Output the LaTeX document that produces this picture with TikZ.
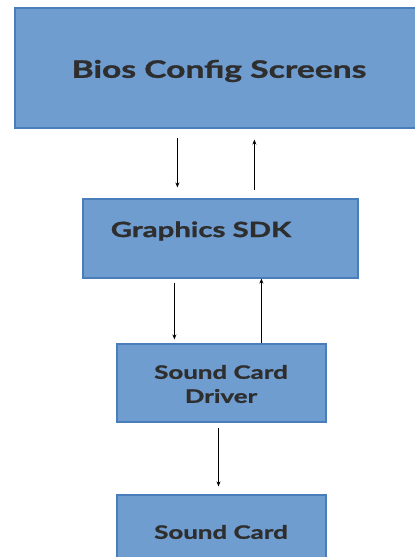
\documentclass[tikz,border=0pt]{standalone}
\usepackage{fontspec}
\setmainfont{Lato}
\newfontfamily\widefont[FakeStretch=1.4,BoldFeatures={FakeBold=1.2}]{Lato}
\usetikzlibrary{arrows.meta}
\definecolor{boxfill}{HTML}{6F9DD0}
\definecolor{boxline}{HTML}{4A7EBB}
\definecolor{txt}{HTML}{2E2E2E}
\begin{document}
\begin{tikzpicture}[x=1pt,y=-1pt,
  blk/.style={draw=boxline,fill=boxfill,line width=1.2pt,rectangle,inner sep=0pt},
  lbl/.style={text=txt,align=center,inner sep=0pt},
  arr/.style={draw=black,line width=1pt,-{Stealth[length=5pt,width=4pt]}}]
\useasboundingbox (0,0) rectangle (415,557);
\clip (0,0) rectangle (415,557);
\node[blk,minimum width=415pt,minimum height=120pt] (bios) at (222.5,68) {};
\node[lbl,font=\widefont\bfseries\fontsize{24}{28}\selectfont] (biost) at (219,71) {Bios Config Screens};
\node[blk,minimum width=275pt,minimum height=79pt] (gsdk) at (220.5,238.5) {};
\node[lbl,font=\widefont\bfseries\fontsize{21}{25}\selectfont] (gsdkt) at (201,231) {Graphics SDK};
\node[blk,minimum width=209pt,minimum height=78pt] (drv) at (221.5,383) {};
\node[lbl,font=\widefont\bfseries\fontsize{18.5}{24}\selectfont] (drvt) at (221,384) {Sound Card\\Driver};
\node[blk,minimum width=209pt,minimum height=90pt] (card) at (221.5,540) {};
\node[lbl,font=\widefont\bfseries\fontsize{18.5}{24}\selectfont] (cardt) at (221,532) {Sound Card};
\draw[arr] ([xshift=163pt,yshift=-9pt]bios.south west) -- ([xshift=95pt,yshift=11pt]gsdk.north west);
\draw[arr] ([xshift=172pt,yshift=8pt]gsdk.north west) -- ([xshift=240pt,yshift=-11pt]bios.south west);
\draw[arr] ([xshift=92pt,yshift=-4pt]gsdk.south west) -- ([xshift=58pt,yshift=4pt]drv.north west);
\draw[arr] ([xshift=145pt]drv.north west) -- ([xshift=179pt]gsdk.south west);
\draw[arr] ([yshift=-5pt,xshift=-3pt]drv.south) -- ([yshift=8pt,xshift=-3pt]card.north);
\end{tikzpicture}
\end{document}
